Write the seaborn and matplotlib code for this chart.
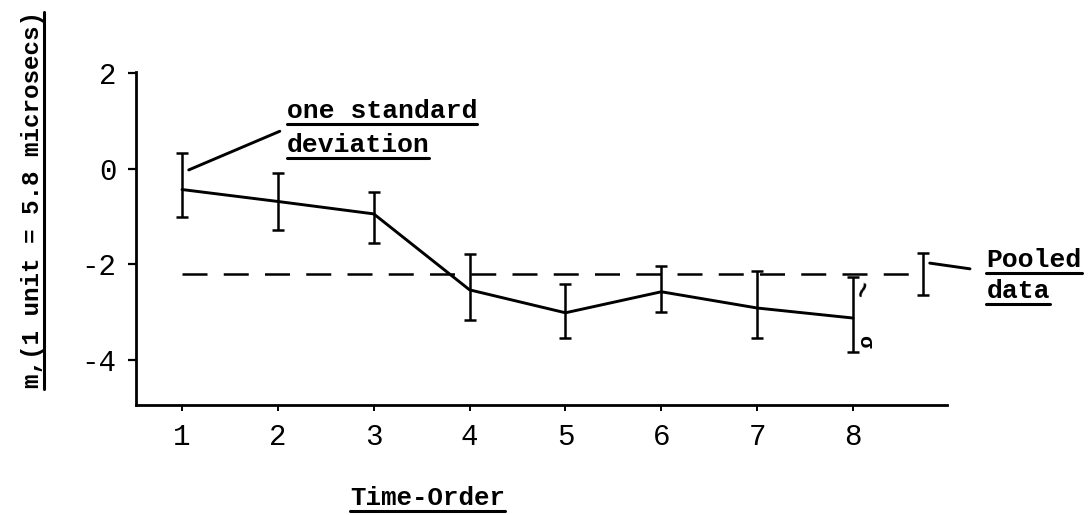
import numpy as np
import pandas as pd
import matplotlib
matplotlib.use("Agg")
import matplotlib.pyplot as plt
from matplotlib.lines import Line2D
import seaborn as sns

# Mean m at each time-order position, with the one-standard-deviation limits
time_order = [1, 2, 3, 4, 5, 6, 7, 8]
mean_m = [-0.44, -0.69, -0.95, -2.54, -3.02, -2.58, -2.92, -3.13]
sd_upper = [0.32, -0.10, -0.50, -1.79, -2.42, -2.05, -2.14, -2.28]
sd_lower = [-1.02, -1.29, -1.55, -3.18, -3.55, -3.00, -3.54, -3.85]

# Pooled estimate over all eight positions
pooled_x = 8.73
pooled_mean = -2.2
pooled_upper = -1.77
pooled_lower = -2.65

x_ticks = [1, 2, 3, 4, 5, 6, 7, 8]
y_ticks = [2, 0, -2, -4]

sns.set_theme(style="white")
plt.rcParams["font.family"] = ["Liberation Mono", "DejaVu Sans"]
plt.rcParams["axes.unicode_minus"] = False
plt.rcParams["text.color"] = "black"

W, H = 1089, 515
fig = plt.figure(figsize=(W / 100, H / 100), dpi=100)
fig.patch.set_facecolor("white")
ax = fig.add_axes([136 / W, 110 / H, 811 / W, 333 / H])
ax.set_facecolor("white")

df = pd.DataFrame({"t": time_order, "m": mean_m})
sns.lineplot(data=df, x="t", y="m", color="black", linewidth=2.1, ax=ax)

m = np.array(mean_m)
yerr = [m - np.array(sd_lower), np.array(sd_upper) - m]
ax.errorbar(time_order, mean_m, yerr=yerr, fmt="none", ecolor="black",
            elinewidth=1.8, capsize=4.5, capthick=1.8)

# Pooled level as a dashed line ending at the pooled error bar
ax.plot([time_order[0], pooled_x], [pooled_mean, pooled_mean], color="black",
        linewidth=1.8, dashes=(10, 6.5), clip_on=False)
ax.errorbar([pooled_x], [pooled_mean],
            yerr=[[pooled_mean - pooled_lower], [pooled_upper - pooled_mean]],
            fmt="none", ecolor="black", elinewidth=1.8, capsize=4.5,
            capthick=1.8, clip_on=False)

ax.set_xlim(0.52, 8.98)
ax.set_ylim(-4.95, 2.02)
ax.set_xticks(x_ticks)
ax.set_xticklabels([str(v) for v in x_ticks])
ax.set_yticks(y_ticks)
ax.set_yticklabels([str(v) for v in y_ticks])
ax.set_xlabel("")
ax.set_ylabel("")

sns.despine(ax=ax)
for side in ("left", "bottom"):
    ax.spines[side].set_color("black")
    ax.spines[side].set_linewidth(2.0)
ax.tick_params(axis="y", direction="out", length=6, width=1.6, pad=8,
               labelsize=21, colors="black", left=True)
ax.tick_params(axis="x", direction="out", length=4, width=1.4, pad=9,
               labelsize=21, colors="black", bottom=True)

# Annotations
ax.annotate("", xy=(1.07, -0.03), xytext=(2.02, 0.78),
            arrowprops=dict(arrowstyle="-", lw=2.1, color="black",
                            shrinkA=0, shrinkB=0), annotation_clip=False)
t_one = ax.text(2.09, 1.06, "one standard", fontsize=19, va="baseline",
                ha="left", fontweight="bold", color="black")
t_dev = ax.text(2.09, 0.345, "deviation", fontsize=19, va="baseline",
                ha="left", fontweight="bold", color="black")

ax.annotate("", xy=(8.80, -1.98), xytext=(9.22, -2.10),
            arrowprops=dict(arrowstyle="-", lw=2.1, color="black",
                            shrinkA=0, shrinkB=0), annotation_clip=False)
t_pool = ax.text(9.39, -2.06, "Pooled", fontsize=19, va="baseline", ha="left",
                 fontweight="bold", color="black", clip_on=False)
t_data = ax.text(9.39, -2.71, "data", fontsize=19, va="baseline", ha="left",
                 fontweight="bold", color="black", clip_on=False)

ax.text(8.12, -2.52, "~", fontsize=20, rotation=70, ha="center", va="center",
        fontweight="bold", color="black")
ax.text(8.12, -3.62, "σ", fontsize=15, rotation=-90, ha="center", va="center",
        fontweight="bold", color="black")

t_x = ax.text((350 - 136) / 811, (405 - 505) / 333, "Time-Order", fontsize=18.5,
              transform=ax.transAxes, ha="left", va="baseline",
              fontweight="bold", color="black", clip_on=False)
t_y = ax.text((39 - 136) / 811, (405 - 200) / 333, "m,(1 unit = 5.8 microsecs)",
              fontsize=17.5, transform=ax.transAxes, rotation=90,
              rotation_mode="anchor", ha="center", va="baseline",
              fontweight="bold", color="black", clip_on=False)


def underline(t, gap_px, vertical=False, lw=2.2):
    fig.canvas.draw()
    bb = t.get_window_extent()
    px, py = t.get_transform().transform(t.get_position())
    if vertical:
        pts = [(px + gap_px, bb.y0), (px + gap_px, bb.y1)]
    else:
        pts = [(bb.x0, py - gap_px), (bb.x1, py - gap_px)]
    (x0, y0), (x1, y1) = fig.transFigure.inverted().transform(pts)
    fig.add_artist(Line2D([x0, x1], [y0, y1], transform=fig.transFigure,
                          color="black", linewidth=lw))


for txt in (t_one, t_dev, t_pool, t_data, t_x):
    underline(txt, 6)
underline(t_y, 5, vertical=True)

fig.savefig("out.png", dpi=100, facecolor="white")
